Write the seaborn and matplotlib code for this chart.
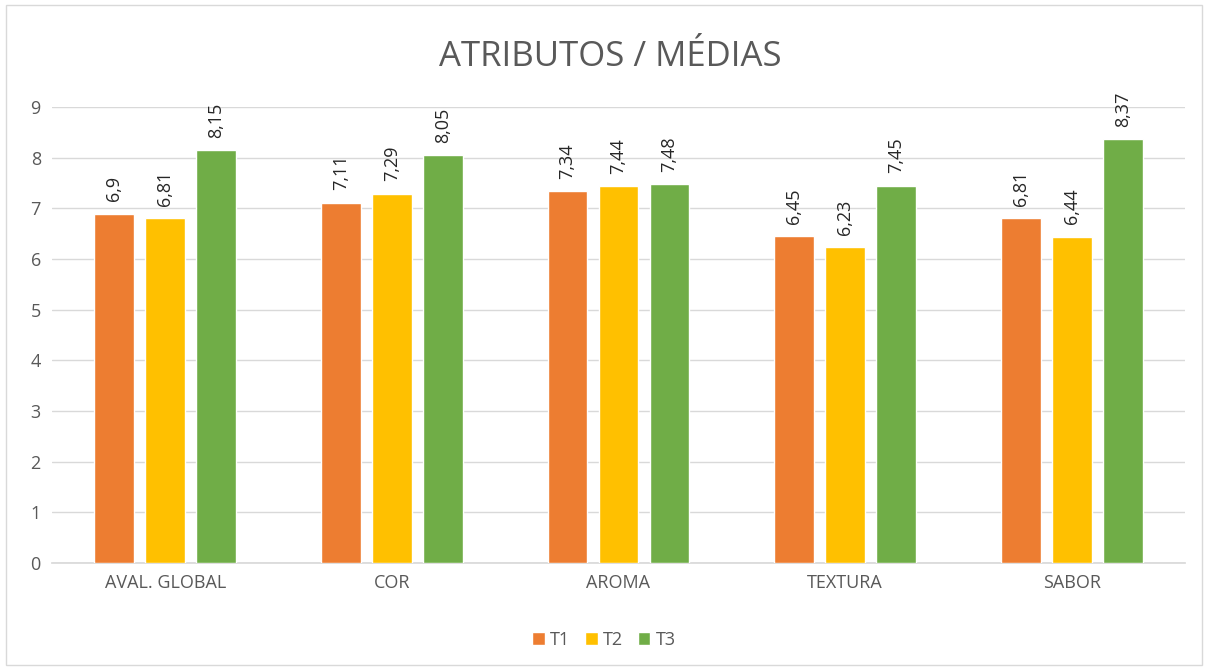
import matplotlib
matplotlib.use("Agg")
import matplotlib.pyplot as plt
import pandas as pd
import seaborn as sns
from matplotlib.patches import Rectangle

categories = ["AVAL. GLOBAL", "COR", "AROMA", "TEXTURA", "SABOR"]
t1 = [6.9, 7.11, 7.34, 6.45, 6.81]
t2 = [6.81, 7.29, 7.44, 6.23, 6.44]
t3 = [8.15, 8.05, 7.48, 7.45, 8.37]
series = ["T1", "T2", "T3"]
colors = ["#ED7D31", "#FFC000", "#70AD47"]

df = pd.DataFrame({
    "atributo": categories * 3,
    "serie": [s for s in series for _ in categories],
    "media": t1 + t2 + t3,
})

sns.set_theme(style="white")
plt.rcParams["font.family"] = ["Open Sans", "DejaVu Sans"]

fig = plt.figure(figsize=(12.08, 6.7), dpi=100)
ax = fig.add_axes([0.043, 0.160, 0.938, 0.680])

sns.barplot(data=df, x="atributo", y="media", hue="serie", order=categories,
            hue_order=series, palette=colors, width=0.675, gap=0.22,
            saturation=1, errorbar=None, ax=ax, zorder=3)

for cont in ax.containers:
    labels = [f"{v:g}".replace(".", ",") for v in cont.datavalues]
    ax.bar_label(cont, labels=labels, rotation=90, padding=9,
                 fontsize=13, color="#262626")

ax.set_ylim(0, 9)
ax.set_xlim(-0.5, len(categories) - 0.5)
ax.set_yticks(range(0, 10))
ax.yaxis.grid(True, color="#D9D9D9", linewidth=1, zorder=0)
ax.set_axisbelow(True)
for s in ["top", "right", "left"]:
    ax.spines[s].set_visible(False)
ax.spines["bottom"].set_color("#D9D9D9")
ax.tick_params(axis="both", length=0, labelsize=13, colors="#595959", pad=8)
ax.set_xlabel("")
ax.set_ylabel("")

fig.text(0.505, 0.915, "ATRIBUTOS / MÉDIAS", ha="center", va="center",
         fontsize=25, color="#595959")

handles, lbls = ax.get_legend_handles_labels()
ax.legend(handles, lbls, loc="center", bbox_to_anchor=(0.5, 0.045),
          bbox_transform=fig.transFigure, ncol=3, frameon=False,
          fontsize=13, handlelength=0.7, handleheight=0.7,
          handletextpad=0.3, columnspacing=0.8, labelcolor="#595959")

fig.patches.append(Rectangle((0.005, 0.008), 0.99, 0.984, transform=fig.transFigure,
                             fill=False, edgecolor="#D9D9D9", linewidth=1))

fig.savefig("out.png", dpi=100)
